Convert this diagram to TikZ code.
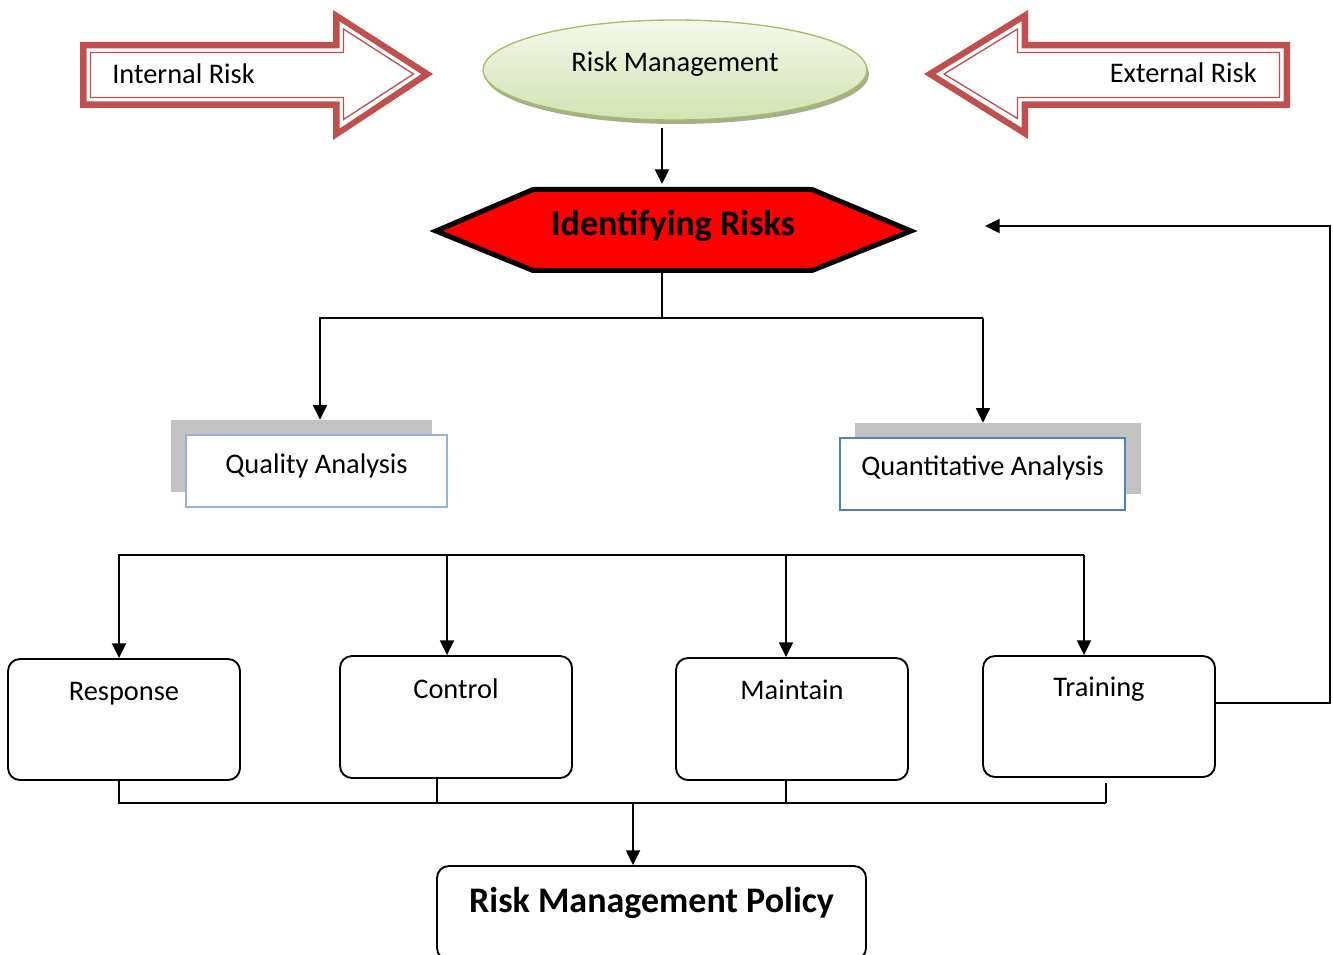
\documentclass[tikz,border=0pt]{standalone}
\usepackage{fontspec}
\setmainfont{Carlito}
\usetikzlibrary{arrows.meta,shapes.geometric,shadows}
\definecolor{arrred}{HTML}{C0504D}
\definecolor{hexred}{HTML}{FF0000}
\definecolor{elltop}{HTML}{F3F8EA}
\definecolor{ellbot}{HTML}{D3E2B4}
\definecolor{ellline}{HTML}{A2C063}
\definecolor{ellshadow}{HTML}{A6AF8C}
\definecolor{qaline}{HTML}{95B3D7}
\definecolor{qtline}{HTML}{4F81BD}
\definecolor{shgray}{HTML}{C2C2C2}
\begin{document}
\begin{tikzpicture}[x=0.75pt,y=-0.75pt,
  conn/.style={line width=1.4pt, draw=black},
  arr/.style={conn, -{Triangle[width=10.5pt,length=11pt]}},
  lbl/.style={font=\fontsize{21.3}{25}\selectfont},
  bigbold/.style={font=\fontsize{27}{32}\selectfont\bfseries},
  rbox/.style={draw=black, line width=1.4pt, rounded corners=9pt, fill=white, inner sep=0pt},
  anabox/.style={fill=white, inner sep=0pt, minimum height=54pt},
  shbox/.style={fill=shgray, inner sep=0pt}
]
\useasboundingbox (0,0) rectangle (1333,955);

% Internal Risk arrow
\fill[arrred] (80,42) -- (333,42) -- (333,10) -- (433,74) -- (333,140) -- (333,108) -- (80,108) -- cycle;
\fill[white] (86.5,48.5) -- (339.5,48.5) -- (339.5,21.5) -- (421,74) -- (339.5,128.5) -- (339.5,101.5) -- (86.5,101.5) -- cycle;
\draw[arrred, line width=1pt] (90.5,52.5) -- (343.5,52.5) -- (343.5,29) -- (413.5,74) -- (343.5,119.5) -- (343.5,97.5) -- (90.5,97.5) -- cycle;
\node[lbl, anchor=base west, inner sep=0pt] (intr) at (112,83.3) {Internal Risk};

% External Risk arrow
\fill[arrred] (1290,42) -- (1028,42) -- (1028,10) -- (924,74) -- (1028,139) -- (1028,108) -- (1290,108) -- cycle;
\fill[white] (1283.5,48.5) -- (1021.5,48.5) -- (1021.5,21.5) -- (936,74) -- (1021.5,127.5) -- (1021.5,101.5) -- (1283.5,101.5) -- cycle;
\draw[arrred, line width=1pt] (1279.5,52.5) -- (1017.5,52.5) -- (1017.5,29) -- (944,74) -- (1017.5,118.5) -- (1017.5,97.5) -- (1279.5,97.5) -- cycle;
\node[lbl, anchor=base east, inner sep=0pt] (extr) at (1257,82.7) {External Risk};

% Risk Management ellipse
\node[ellipse, draw=ellline, line width=1pt, top color=elltop, bottom color=ellbot,
      minimum width=288pt, minimum height=75pt, inner sep=0pt,
      drop shadow={shadow xshift=1.5pt, shadow yshift=-3pt, fill=ellshadow, opacity=1},
      lbl, text height=15pt, text depth=12.8pt] (rm) at (675,70) {Risk Management};

% Identifying Risks hexagon
\filldraw[fill=hexred, draw=black, line width=3.75pt] (436,231) -- (533,189.5) -- (812,189.5) -- (911,231) -- (812,270.5) -- (533,270.5) -- cycle;
\node[bigbold, anchor=base, inner sep=0pt] (idr) at (673,235.7) {Identifying Risks};
\coordinate (rmB) at (662,128);
\coordinate (hexT) at (662,184);
\coordinate (hexB) at (662,273);
\draw[arr] (rmB) -- (hexT);

% Analysis boxes
\node[shbox, minimum width=195.75pt, minimum height=54pt] (qash) at (301.5,456) {};
\node[anabox, draw=qaline, line width=1pt, minimum width=195.75pt,
      lbl, text height=15pt, text depth=11.6pt] (qa) at (316.5,471) {Quality Analysis};
\node[shbox, minimum width=214.5pt, minimum height=53.25pt] (qtsh) at (998,458.5) {};
\node[anabox, draw=qtline, line width=1.3pt, minimum width=213.75pt,
      lbl, text height=15pt, text depth=13.5pt] (qt) at (982.5,474) {Quantitative Analysis};

\coordinate (split) at (662,318);
\coordinate (tA) at (320,318);
\coordinate (tB) at (983,318);
\draw[conn] (hexB) -- (split);
\draw[arr] (tB) -- (tA) -- (tA |- qash.north);
\draw[arr] (tB) -- (tB |- qtsh.north);

% Action boxes
\node[rbox, minimum width=174pt, minimum height=90.75pt,
      lbl, text height=15pt, text depth=42.8pt] (resp) at (124,719.5) {Response};
\node[rbox, minimum width=174pt, minimum height=91.5pt,
      lbl, text height=15pt, text depth=43pt] (ctrl) at (456,717) {Control};
\node[rbox, minimum width=174pt, minimum height=91.5pt,
      lbl, text height=15pt, text depth=44.6pt] (maint) at (792,719) {Maintain};
\node[rbox, minimum width=174pt, minimum height=90.75pt,
      lbl, text height=15pt, text depth=44.7pt] (train) at (1099,716.5) {Training};

\coordinate (m1) at (119,555);
\coordinate (m2) at (447,555);
\coordinate (m3) at (786,555);
\coordinate (m4) at (1084,555);
\draw[arr] (m4) -- (m1) -- (m1 |- resp.north);
\draw[arr] (m2) -- (m2 |- ctrl.north);
\draw[arr] (m3) -- (m3 |- maint.north);
\draw[arr] (m4) -- (m4 |- train.north);

% Feedback loop
\coordinate (fbR) at (1330,703);
\coordinate (fbT) at (1330,226);
\coordinate (fbEnd) at (985,226);
\draw[arr] (fbR -| train.east) -- (fbR) -- (fbT) -- (fbEnd);

% Policy box
\node[rbox, minimum width=321.75pt, minimum height=70.5pt,
      bigbold, text height=20pt, text depth=21.5pt] (pol) at (651.5,913) {Risk Management Policy};

\coordinate (d1) at (119,803);
\coordinate (d2) at (437,803);
\coordinate (d3) at (786,803);
\coordinate (d4) at (1106,803);
\coordinate (bb) at (633,803);
\draw[conn] (d1 |- resp.south) -- (d1) -- (d4);
\draw[conn] (d2 |- ctrl.south) -- (d2);
\draw[conn] (d3 |- maint.south) -- (d3);
\draw[conn, shorten <=3.75pt] (d4 |- train.south) -- (d4);
\draw[arr] (bb) -- (bb |- pol.north);
\end{tikzpicture}
\end{document}
